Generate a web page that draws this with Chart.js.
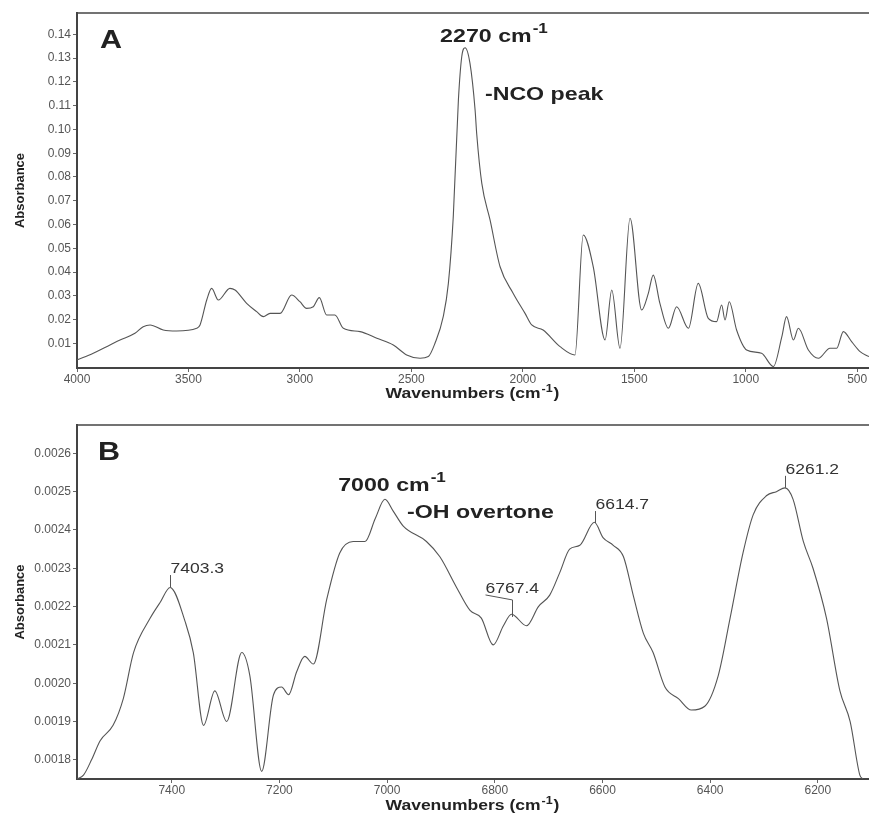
<!DOCTYPE html>
<html>
<head>
<meta charset="utf-8">
<script src="https://cdn.jsdelivr.net/npm/chart.js@4.4.1/dist/chart.umd.min.js"></script>
<style>
  body { margin: 0; background: #fff; }
  .wrap { position: relative; width: 869px; height: 814px; }
  canvas { display: block; position: absolute; left: 0; }
  #chartA { top: 0; }
  #chartB { top: 400px; }
</style>
</head>
<body>
<div class="wrap">
<canvas id="chartA" width="869" height="406"></canvas>
<canvas id="chartB" width="869" height="414"></canvas>
</div>
<script>
// panel A - mid IR spectrum
const wnA = [4000, 3927, 3852, 3807, 3740, 3703, 3672, 3613, 3553, 3463, 3448, 3418, 3396, 3366, 3314, 3291,
  3239, 3194, 3164, 3134, 3089, 3037, 3000, 2970, 2940, 2913, 2880, 2843, 2805, 2730, 2655, 2581, 2521, 2461,
  2424, 2394, 2357, 2334, 2312, 2289, 2274, 2259, 2237, 2214, 2207, 2184, 2147, 2102, 2043, 1990, 1960, 1909,
  1833, 1766, 1729, 1684, 1631, 1601, 1564, 1519, 1467, 1437, 1415, 1385, 1347, 1310, 1257, 1213, 1168, 1131,
  1108, 1093, 1074, 1041, 996, 929, 876, 838, 817, 786, 764, 719, 674, 622, 592, 562, 525, 487, 447];
const absA = [0.0030, 0.0058, 0.0093, 0.0114, 0.0142, 0.0170, 0.0177, 0.0156, 0.0152, 0.0163, 0.0177, 0.0282,
  0.0331, 0.0282, 0.0331, 0.0324, 0.0268, 0.0233, 0.0212, 0.0226, 0.0226, 0.0303, 0.0275, 0.0247, 0.0254,
  0.0292, 0.0219, 0.0219, 0.0163, 0.0149, 0.0121, 0.0093, 0.0051, 0.0037, 0.0044, 0.0100, 0.0212, 0.0352,
  0.0633, 0.1124, 0.1306, 0.1344, 0.1278, 0.1081, 0.0983, 0.0773, 0.0619, 0.0422, 0.0310, 0.0226, 0.0177,
  0.0156, 0.0086, 0.0051, 0.0556, 0.0422, 0.0114, 0.0324, 0.0079, 0.0626, 0.0240, 0.0310, 0.0387, 0.0268,
  0.0163, 0.0254, 0.0163, 0.0352, 0.0205, 0.0191, 0.0261, 0.0198, 0.0275, 0.0156, 0.0072, 0.0058, 0.0002,
  0.0128, 0.0212, 0.0114, 0.0163, 0.0072, 0.0037, 0.0079, 0.0079, 0.0149, 0.0107, 0.0065, 0.0044];
const xTicksA = [4000, 3500, 3000, 2500, 2000, 1500, 1000, 500];
const yTicksA = [0.01, 0.02, 0.03, 0.04, 0.05, 0.06, 0.07, 0.08, 0.09, 0.10, 0.11, 0.12, 0.13, 0.14];

// panel B - near IR, OH overtone region
const wnB = [7576, 7564, 7549, 7533, 7509, 7490, 7471, 7440, 7422, 7403, 7375, 7360, 7341, 7320, 7298, 7270,
  7255, 7233, 7211, 7196, 7183, 7168, 7153, 7137, 7112, 7088, 7063, 7041, 7022, 7004, 6989, 6970, 6927, 6902,
  6871, 6846, 6825, 6803, 6784, 6769, 6741, 6719, 6698, 6679, 6661, 6642, 6615, 6599, 6580, 6561, 6543, 6524,
  6506, 6484, 6459, 6435, 6410, 6385, 6363, 6339, 6320, 6295, 6277, 6261, 6246, 6227, 6209, 6184, 6159, 6140,
  6122, 6116];
const absB = [0.00175, 0.00176, 0.00180, 0.00185, 0.00189, 0.00196, 0.00208, 0.00217, 0.00221, 0.00225,
  0.00216, 0.00208, 0.00189, 0.00198, 0.00190, 0.00208, 0.00202, 0.00177, 0.00197, 0.00199, 0.00197, 0.00203,
  0.00207, 0.00205, 0.00222, 0.00234, 0.00237, 0.00237, 0.00243, 0.00248, 0.00245, 0.00241, 0.00237, 0.00233,
  0.00225, 0.00219, 0.00217, 0.00210, 0.00215, 0.00218, 0.00215, 0.00220, 0.00223, 0.00229, 0.00235, 0.00236,
  0.00242, 0.00238, 0.00236, 0.00233, 0.00223, 0.00213, 0.00208, 0.00199, 0.00196, 0.00193, 0.00194, 0.00202,
  0.00217, 0.00234, 0.00244, 0.00249, 0.00250, 0.00251, 0.00248, 0.00237, 0.00230, 0.00217, 0.00198, 0.00190,
  0.00176, 0.00175];
const xTicksB = [7400, 7200, 7000, 6800, 6600, 6400, 6200];
const yTicksB = [0.0018, 0.0019, 0.0020, 0.0021, 0.0022, 0.0023, 0.0024, 0.0025, 0.0026];

const peakLabelsB = ["7403.3", "6767.4", "6614.7", "6261.2"];
const peakWnB = [7403.3, 6767.4, 6614.7, 6261.2];
const peakAbsB = [0.002251, 0.002173, 0.002418, 0.00251];

Chart.defaults.font.family = '"Liberation Sans", Arial, sans-serif';
Chart.defaults.color = "#555";

const FONT = '"Liberation Sans", Arial, sans-serif';
const SX = 1.22; // the original figure is a bit wide for its height

function wideText(ctx, str, x, y, font, sx) {
    ctx.save();
    ctx.font = font;
    let w = ctx.measureText(str).width * sx;
    ctx.translate(x, y);
    ctx.scale(sx, 1);
    ctx.fillText(str, 0, 0);
    ctx.restore();
    return w;
}

// text with a "-1" superscript after it
function supText(ctx, main, sup, tail, x, y, size, sx) {
    let w = wideText(ctx, main, x, y, "bold " + size + "px " + FONT, sx);
    let ws = wideText(ctx, sup, x + w + 1, y - size * 0.45, "bold " + Math.round(size * 0.72) + "px " + FONT, sx);
    if(tail) {
        wideText(ctx, tail, x + w + ws + 2, y, "bold " + size + "px " + FONT, sx);
    }
}

const notesPlugin = {
    id: "notes",
    afterDraw(chart, args, opts) {
        const ctx = chart.ctx;
        const ca = chart.chartArea;
        const xs = chart.scales.x;
        const ys = chart.scales.y;
        ctx.save();
        ctx.strokeStyle = "#444";
        ctx.lineWidth = 1.5;
        ctx.beginPath();
        ctx.moveTo(ca.left, ca.top);
        ctx.lineTo(ca.right, ca.top);
        ctx.stroke();

        // x axis title
        ctx.fillStyle = "#222";
        ctx.font = "bold 14px " + FONT;
        let w1 = ctx.measureText("Wavenumbers (cm").width * 1.25;
        let w3 = ctx.measureText(")").width * 1.25;
        ctx.font = "bold 10px " + FONT;
        let w2 = ctx.measureText("-1").width * 1.25;
        let tx = (ca.left + ca.right) / 2 - (w1 + w2 + w3 + 3) / 2;
        supText(ctx, "Wavenumbers (cm", "-1", ")", tx, ca.bottom + opts.titleOffset, 14, 1.25);

        // big labels
        opts.notes.forEach(n => {
            let px = xs.getPixelForValue(n.x);
            let py = ys.getPixelForValue(n.y);
            if(n.sup) {
                supText(ctx, n.text, n.sup, "", px, py, n.size, SX);
            }
            else {
                wideText(ctx, n.text, px, py, "bold " + n.size + "px " + FONT, SX);
            }
        });

        // peak labels with leader lines
        if(opts.peaks) {
            ctx.strokeStyle = "#555";
            ctx.lineWidth = 1;
            ctx.fillStyle = "#333";
            opts.peaks.labels.forEach((lab, i) => {
                let px = Math.round(xs.getPixelForValue(opts.peaks.wn[i])) + 0.5;
                let py = ys.getPixelForValue(opts.peaks.ab[i]);
                let shift = opts.peaks.shift[i];
                ctx.beginPath();
                ctx.moveTo(px, py);
                if(shift === 0) {
                    ctx.lineTo(px, py - 12);
                    ctx.stroke();
                    wideText(ctx, lab, px, py - 14, "14px " + FONT, 1.25);
                }
                else {
                    ctx.lineTo(px, py - 17);
                    ctx.lineTo(px + shift, py - 22);
                    ctx.stroke();
                    wideText(ctx, lab, px + shift, py - 24, "14px " + FONT, 1.25);
                }
            });
        }
        ctx.restore();
    }
};

function makeChart(id, wn, ab, xr, yr, xTicks, yTicks, decimals, plotTop, plotBottom, notes) {
    const points = wn.map((w, i) => ({x: w, y: ab[i]}));
    const config = {
        type: "line",
        data: {
            datasets: [{
                data: points,
                borderColor: "#555",
                borderWidth: 1.1,
                pointRadius: 0,
                fill: false,
                cubicInterpolationMode: "monotone"
            }]
        },
        options: {
            responsive: false,
            animation: false,
            layout: { padding: { top: plotTop, right: 0, left: 0, bottom: 0 } },
            plugins: {
                legend: { display: false },
                tooltip: { enabled: false },
                notes: notes
            },
            scales: {
                x: {
                    type: "linear",
                    reverse: true,
                    min: xr[0],
                    max: xr[1],
                    afterBuildTicks: s => { s.ticks = xTicks.map(v => ({value: v})); },
                    afterFit: s => { s.height = s.chart.height - plotBottom; },
                    ticks: {
                        font: { size: 12 },
                        color: "#555",
                        padding: 0,
                        maxRotation: 0,
                        callback: v => String(v)
                    },
                    grid: { drawOnChartArea: false, drawTicks: true, tickLength: 4, color: "#666" },
                    border: { display: true, color: "#444", width: 2 }
                },
                y: {
                    min: yr[0],
                    max: yr[1],
                    afterBuildTicks: s => { s.ticks = yTicks.map(v => ({value: v})); },
                    afterFit: s => { s.width = 77; },
                    ticks: {
                        font: { size: 12 },
                        color: "#555",
                        padding: 2,
                        callback: v => Number(v).toFixed(decimals)
                    },
                    grid: { drawOnChartArea: false, drawTicks: true, tickLength: 4, color: "#666" },
                    border: { display: true, color: "#444", width: 2 },
                    title: {
                        display: true,
                        text: "Absorbance",
                        color: "#222",
                        font: { size: 13, weight: "bold" },
                        padding: { top: 13, bottom: 0 }
                    }
                }
            }
        },
        plugins: [notesPlugin]
    };
    return new Chart(document.getElementById(id).getContext("2d"), config);
}

makeChart("chartA", wnA, absA, [447, 4000], [-0.0004, 0.149], xTicksA, yTicksA, 2, 13, 368, {
    titleOffset: 30,
    notes: [
        { text: "A", x: 3897, y: 0.1342, size: 25 },
        { text: "2270 cm", sup: "-1", x: 2371, y: 0.1368, size: 19 },
        { text: "-NCO peak", x: 2170, y: 0.1123, size: 19 }
    ]
});

makeChart("chartB", wnB, absB, [6105, 7576], [0.00175, 0.002674], xTicksB, yTicksB, 4, 25, 379, {
    titleOffset: 31,
    notes: [
        { text: "B", x: 7537, y: 0.002583, size: 25 },
        { text: "7000 cm", sup: "-1", x: 7091, y: 0.002502, size: 19 },
        { text: "-OH overtone", x: 6963, y: 0.002431, size: 19 }
    ],
    peaks: { labels: peakLabelsB, wn: peakWnB, ab: peakAbsB, shift: [0, -27, 0, 0] }
});
</script>
</body>
</html>
